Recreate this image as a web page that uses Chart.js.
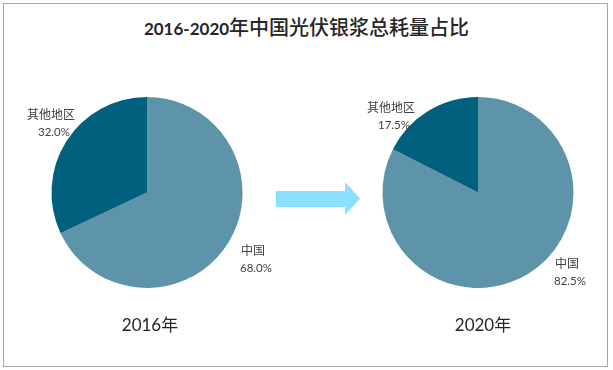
<!DOCTYPE html>
<html lang="zh">
<head>
    <meta charset="UTF-8">
    <title>2016-2020年中国光伏银浆总耗量占比</title>
    <script src="https://cdn.jsdelivr.net/npm/chart.js"></script>
    <style>
        body { margin: 0; background: #fff; }
        #frame {
            position: absolute; left: 3px; top: 3px; width: 603px; height: 362px;
            border: 1px solid #a6a6a6;
        }
        .title {
            position: absolute; left: 0; top: 14px; width: 613px; text-align: center;
            font: 500 20px "Noto Sans CJK SC", sans-serif; color: #262626; line-height: 26px;
        }
        .title .num { font: bold 17px Lato, sans-serif; }
        .year {
            position: absolute; top: 311px; width: 120px; text-align: center;
            font: 17px Lato, "Noto Sans CJK SC", sans-serif; color: #262626;
        }
        canvas { position: absolute; }
        svg { position: absolute; left: 0; top: 0; }
    </style>
</head>
<body>
    <div id="frame"></div>
    <div class="title"><span class="num">2016-2020</span>年中国光伏银浆总耗量占比</div>

    <!-- 箭头 -->
    <svg width="613" height="370">
        <polygon points="276,191 345,191 345,182 360,198.5 345,215 345,207 276,207" fill="#8bdfff"/>
    </svg>

    <div style="position:absolute;left:0;top:60px;width:300px;height:270px;">
        <canvas id="pie2016" width="300" height="270"></canvas>
    </div>
    <div style="position:absolute;left:310px;top:60px;width:300px;height:270px;">
        <canvas id="pie2020" width="300" height="270"></canvas>
    </div>

    <div class="year" id="year0" style="left:90px;"></div>
    <div class="year" id="year1" style="left:423px;"></div>

    <script>
        // 数据
        const regions = ['中国', '其他地区'];
        const share2016 = [68.0, 32.0];
        const share2020 = [82.5, 17.5];
        const years = ['2016年', '2020年'];
        const colors = ['#5d94aa', '#02607f'];

        document.getElementById('year0').textContent = years[0];
        document.getElementById('year1').textContent = years[1];

        // 扇区标签
        const sliceLabels = {
            id: 'sliceLabels',
            afterDatasetsDraw(chart, args, opts) {
                const ctx = chart.ctx;
                const meta = chart.getDatasetMeta(0);
                const values = chart.data.datasets[0].data;
                meta.data.forEach((arc, i) => {
                    const x = arc.x + opts.offsets[i][0];
                    const y = arc.y + opts.offsets[i][1];
                    ctx.save();
                    ctx.fillStyle = '#404040';
                    ctx.textAlign = 'center';
                    ctx.textBaseline = 'middle';
                    ctx.font = '12px "Noto Sans CJK SC", sans-serif';
                    ctx.fillText(chart.data.labels[i], x, y);
                    ctx.font = '11.5px Lato, sans-serif';
                    ctx.fillText(values[i].toFixed(1) + '%', x + 3, y + 18);
                    ctx.restore();
                });
            }
        };

        function makePie(id, values, padding, offsets) {
            return new Chart(document.getElementById(id), {
                type: 'pie',
                data: {
                    labels: regions,
                    datasets: [{
                        data: values,
                        backgroundColor: colors,
                        borderWidth: 0
                    }]
                },
                options: {
                    responsive: false,
                    animation: false,
                    layout: { padding: padding },
                    plugins: {
                        legend: { display: false },
                        tooltip: { enabled: false },
                        sliceLabels: { offsets: offsets }
                    }
                },
                plugins: [sliceLabels]
            });
        }

        makePie('pie2016', share2016,
            { left: 51.5, right: 57.5, top: 37, bottom: 42 },
            [[106, 58], [-96, -78]]);
        makePie('pie2020', share2020,
            { left: 72.5, right: 36.5, top: 37, bottom: 42 },
            [[89, 71], [-87, -85]]);
    </script>
</body>
</html>
